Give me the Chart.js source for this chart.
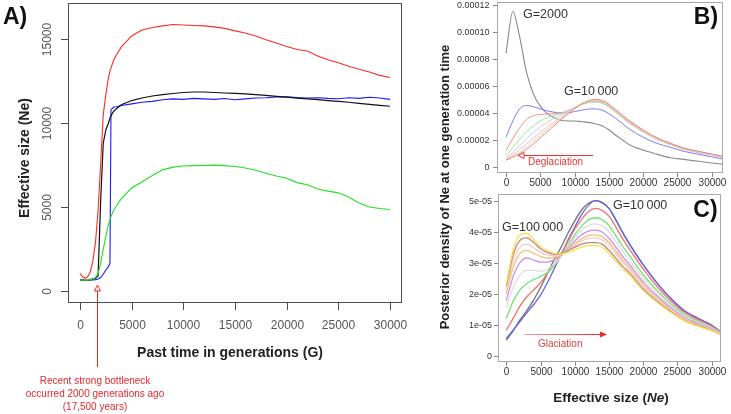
<!DOCTYPE html>
<html><head><meta charset="utf-8">
<script src="https://cdn.jsdelivr.net/npm/chart.js@4.4.1/dist/chart.umd.min.js"></script>
<style>
html,body{margin:0;padding:0;background:#fff;}
#wrap{position:relative;width:731px;height:414px;overflow:hidden;background:#fff;}
canvas{position:absolute;left:0;top:0;width:731px;height:414px;}
</style></head><body>
<div id="wrap">
<canvas id="cA" width="731" height="414"></canvas>
<canvas id="cB" width="731" height="414"></canvas>
<canvas id="cC" width="731" height="414"></canvas>
</div>
<script>
// ---------- Panel A data: past time in generations vs effective size ----------
const aX = [0,250,500,750,1000,1250,1500,1750,2000,2250,2500,2750,2900,3000,3250,3500,4000,
  5000,6000,7000,8000,9000,10000,11000,12000,13000,14000,15000,16000,17000,18000,19000,20000,
  21000,22000,23000,24000,25000,26000,27000,28000,29000,30000];
const aRed = [1050,850,760,850,1150,1800,2900,4800,7600,10500,11700,12700,13100,13300,13750,14050,14550,
  15200,15550,15700,15800,15880,15850,15820,15800,15740,15650,15500,15380,15200,14970,14780,14570,
  14390,14300,14000,13780,13600,13390,13220,13050,12850,12720];
const aBlack = [650,650,640,650,680,720,760,900,5400,8800,9600,10000,10300,10450,10700,10850,11100,
  11350,11500,11620,11700,11770,11830,11860,11860,11830,11800,11780,11750,11700,11660,11600,11550,
  11500,11450,11400,11350,11300,11250,11180,11120,11060,11010];
const aBlue = [650,650,640,640,650,660,680,720,800,1000,1250,1450,1650,10800,10950,10980,11050,
  11150,11250,11300,11400,11450,11420,11480,11450,11420,11470,11400,11450,11500,11520,11560,11580,
  11530,11500,11520,11480,11460,11520,11480,11550,11500,11420];
const aGreen = [650,640,640,650,680,720,800,1050,1650,2500,3250,3950,4250,4450,4800,5050,5500,
  6150,6500,6880,7220,7380,7450,7470,7480,7500,7470,7420,7330,7200,7020,6850,6720,
  6460,6330,6080,5950,5850,5600,5250,5010,4920,4860];
const aXTicks = [0,5000,10000,15000,20000,25000,30000];
const aYTicks = [0,5000,10000,15000];

// ---------- Panels B and C: posterior density of Ne (values in units of 1e-5) ----------
const neX = [0,1000,2000,3000,4000,5000,6000,7000,8000,9000,10000,11000,12000,13000,14000,15000,
  16000,17000,18000,20000,22000,24000,26000,28000,30000,31500];
// B) deglaciation
const bGray   = [8.4,11.5,9.6,7.0,5.4,4.5,3.95,3.65,3.45,3.4,3.4,3.35,3.3,3.2,3.05,2.75,2.35,2.0,1.65,1.25,0.95,0.68,0.56,0.42,0.3,0.2];
const bBlue   = [2.2,3.4,4.3,4.55,4.45,4.3,4.15,4.05,4.0,4.0,4.1,4.2,4.28,4.3,4.2,3.95,3.6,3.2,2.8,2.2,1.75,1.45,1.15,0.95,0.75,0.6];
const bRed    = [1.2,2.1,2.9,3.5,3.8,3.88,3.92,3.95,4.0,4.15,4.4,4.65,4.8,4.85,4.75,4.45,4.05,3.65,3.25,2.6,2.05,1.65,1.3,1.08,0.88,0.72];
const bGreen  = [0.8,1.45,2.05,2.6,3.05,3.4,3.65,3.82,3.95,4.1,4.35,4.6,4.75,4.8,4.72,4.45,4.05,3.65,3.3,2.62,2.08,1.68,1.32,1.1,0.9,0.75];
const bLav    = [0.62,1.1,1.6,2.1,2.55,2.95,3.3,3.6,3.85,4.1,4.4,4.65,4.82,4.88,4.8,4.52,4.12,3.7,3.32,2.65,2.1,1.7,1.34,1.12,0.92,0.77];
const bPink   = [0.55,0.92,1.3,1.72,2.15,2.6,3.0,3.35,3.7,4.0,4.35,4.65,4.85,4.93,4.85,4.57,4.17,3.75,3.36,2.68,2.12,1.72,1.36,1.14,0.93,0.78];
const bOrange = [0.5,0.8,1.1,1.48,1.9,2.35,2.78,3.2,3.6,3.95,4.32,4.65,4.88,4.96,4.88,4.6,4.2,3.78,3.38,2.7,2.14,1.73,1.37,1.15,0.94,0.79];
const bBrown  = [0.5,0.72,0.98,1.3,1.7,2.15,2.6,3.05,3.5,3.9,4.3,4.65,4.9,5.0,4.92,4.65,4.25,3.82,3.42,2.74,2.17,1.75,1.39,1.17,0.96,0.8];
// C) glaciation
const cGray   = [0.5,0.8,1.15,1.45,1.8,2.2,2.65,3.1,3.5,3.95,4.35,4.7,4.92,5.0,4.93,4.75,4.38,3.97,3.6,2.93,2.35,1.85,1.45,1.2,0.98,0.73];
const cBlue   = [0.55,0.82,1.1,1.38,1.65,1.95,2.35,2.8,3.25,3.72,4.15,4.55,4.85,5.0,4.95,4.75,4.38,3.97,3.6,2.93,2.35,1.85,1.45,1.2,0.98,0.73];
const cRed    = [0.82,1.2,1.6,1.9,2.12,2.35,2.65,2.95,3.28,3.68,4.08,4.4,4.65,4.75,4.69,4.5,4.15,3.77,3.43,2.79,2.24,1.77,1.39,1.16,0.95,0.72];
const cGreen  = [1.2,1.75,2.12,2.33,2.45,2.55,2.68,2.9,3.2,3.55,3.9,4.18,4.38,4.45,4.39,4.2,3.87,3.53,3.22,2.61,2.11,1.68,1.32,1.11,0.91,0.71];
const cLgray  = [1.55,2.2,2.6,2.75,2.75,2.72,2.78,2.95,3.2,3.5,3.8,4.05,4.2,4.25,4.19,4.0,3.69,3.36,3.08,2.5,2.02,1.62,1.28,1.07,0.89,0.7];
const cPurple = [1.77,2.55,3.0,3.15,3.08,3.02,3.02,3.1,3.25,3.45,3.7,3.9,4.02,4.05,3.99,3.79,3.5,3.2,2.94,2.38,1.93,1.55,1.23,1.04,0.86,0.69];
const cOrange = [2.0,2.85,3.3,3.4,3.3,3.2,3.15,3.17,3.25,3.42,3.6,3.77,3.88,3.9,3.84,3.65,3.37,3.08,2.84,2.3,1.87,1.51,1.2,1.01,0.84,0.68];
const cPink   = [2.15,3.05,3.5,3.6,3.48,3.33,3.25,3.22,3.27,3.4,3.55,3.7,3.78,3.8,3.74,3.55,3.28,3.0,2.77,2.24,1.83,1.48,1.18,0.99,0.83,0.68];
const cBrown  = [2.25,3.25,3.72,3.8,3.65,3.45,3.33,3.27,3.28,3.38,3.5,3.6,3.65,3.65,3.6,3.4,3.14,2.88,2.67,2.16,1.76,1.43,1.14,0.97,0.81,0.67];
const cYellow = [2.3,3.4,3.9,3.95,3.75,3.52,3.38,3.3,3.28,3.33,3.42,3.5,3.55,3.55,3.5,3.3,3.05,2.8,2.6,2.1,1.72,1.4,1.12,0.95,0.8,0.67];

const neXTicks = [0,5000,10000,15000,20000,25000,30000];
const bYTicks = [0,2,4,6,8,10,12];
const bYLabels = ['0','0.00002','0.00004','0.00006','0.00008','0.00010','0.00012'];
const cYTicks = [0,1,2,3,4,5];
const cYLabels = ['0','1e-05','2e-05','3e-05','4e-05','5e-05'];

// ---------- helpers ----------
const FF = '"Liberation Sans", Arial, Helvetica, sans-serif';
function ds(xs, ys, color, w, smooth) {
  return {data: xs.map((x,i)=>({x:x, y:ys[i]})), borderColor: color, borderWidth: w,
    pointRadius: 0, fill: false, tension: 0, cubicInterpolationMode: smooth ? 'monotone' : 'default'};
}
function text(ctx, s, x, y, font, color, align, rot) {
  ctx.save();
  ctx.font = font; ctx.fillStyle = color; ctx.textAlign = align || 'center'; ctx.textBaseline = 'middle';
  ctx.translate(x, y); if (rot) ctx.rotate(rot);
  ctx.fillText(s, 0, 0); ctx.restore();
}
function line(ctx, x1, y1, x2, y2, color, w) {
  ctx.save(); ctx.strokeStyle = color; ctx.lineWidth = w || 1;
  ctx.beginPath(); ctx.moveTo(x1, y1); ctx.lineTo(x2, y2); ctx.stroke(); ctx.restore();
}
function baseOpts(pad, xr, yr) {
  return {
    responsive: false, animation: false, devicePixelRatio: 1, events: [],
    layout: {padding: pad},
    plugins: {legend: {display: false}, tooltip: {enabled: false}},
    scales: {
      x: {type: 'linear', display: false, min: xr[0], max: xr[1]},
      y: {type: 'linear', display: false, min: yr[0], max: yr[1]}
    }
  };
}

// ---------- Panel A ----------
const plugA = {id: 'axA', afterDraw(chart) {
  const ctx = chart.ctx, xs = chart.scales.x, ys = chart.scales.y, ca = chart.chartArea;
  ctx.save();
  ctx.strokeStyle = '#4d4d4d'; ctx.lineWidth = 1;
  ctx.strokeRect(Math.round(ca.left)+0.5, Math.round(ca.top)+0.5, Math.round(ca.width)-1, Math.round(ca.height)-1);
  const bot = Math.round(ca.bottom);
  aXTicks.forEach(v => {
    const p = Math.round(xs.getPixelForValue(v)) + 0.5;
    line(ctx, p, bot, p, bot + 7, '#4d4d4d', 1);
    text(ctx, String(v), p, 326, '12px ' + FF, '#555', 'center');
  });
  const lft = Math.round(ca.left);
  aYTicks.forEach(v => {
    const p = Math.round(ys.getPixelForValue(v)) + 0.5;
    line(ctx, lft, p, lft - 7, p, '#4d4d4d', 1);
    text(ctx, String(v), 48, p, '12px ' + FF, '#555', 'center', -Math.PI/2);
  });
  text(ctx, 'Effective size (Ne)', 25, 158, 'bold 14px ' + FF, '#222', 'center', -Math.PI/2);
  text(ctx, 'Past time in generations (G)', 230, 353, 'bold 14px ' + FF, '#222', 'center');
  text(ctx, 'A)', 3, 18, 'bold 23px ' + FF, '#111', 'left');
  // bottleneck annotation
  const red = '#e8262b';
  line(ctx, 97.5, 291, 97.5, 367, red, 1);
  ctx.strokeStyle = red; ctx.lineWidth = 1;
  ctx.beginPath(); ctx.moveTo(97.5, 285); ctx.lineTo(94.5, 291); ctx.lineTo(100.5, 291); ctx.closePath();
  ctx.fillStyle = '#fff'; ctx.fill(); ctx.stroke();
  text(ctx, 'Recent strong bottleneck', 95, 381, '10px ' + FF, red, 'center');
  text(ctx, 'occurred 2000 generations ago', 95, 394, '10px ' + FF, red, 'center');
  text(ctx, '(17,500 years)', 95, 407, '10px ' + FF, red, 'center');
  ctx.restore();
}};
new Chart(document.getElementById('cA'), {
  type: 'line',
  data: {datasets: [
    ds(aX, aRed, '#ff2a2a', 1.1),
    ds(aX, aGreen, '#22e022', 1.1),
    ds(aX, aBlack, '#111111', 1.2),
    ds(aX, aBlue, '#1a1aff', 1.1)
  ]},
  options: baseOpts({left: 68, top: 3, right: 329, bottom: 111}, [-1161, 31161], [-715, 17163]),
  plugins: [plugA]
});

// ---------- Panels B / C shared axis drawing ----------
function densAxes(chart, yTicks, yLabels, yLabRight, xLabY) {
  const ctx = chart.ctx, xs = chart.scales.x, ys = chart.scales.y, ca = chart.chartArea;
  ctx.save();
  ctx.strokeStyle = '#a8a8a8'; ctx.lineWidth = 1;
  ctx.strokeRect(Math.round(ca.left)+0.5, Math.round(ca.top)+0.5, Math.round(ca.width)-1, Math.round(ca.height)-1);
  const lft = Math.round(ca.left), bot = Math.round(ca.bottom);
  yTicks.forEach((v, i) => {
    const p = Math.round(ys.getPixelForValue(v)) + 0.5;
    line(ctx, lft - 4, p, lft, p, '#888', 1);
    text(ctx, yLabels[i], yLabRight, p, '9px ' + FF, '#333', 'right');
  });
  neXTicks.forEach(v => {
    const p = Math.round(xs.getPixelForValue(v)) + 0.5;
    line(ctx, p, bot, p, bot + 4, '#888', 1);
    text(ctx, String(v), p, xLabY, '10px ' + FF, '#333', 'center');
  });
  ctx.restore();
}

// ---------- Panel B ----------
const plugB = {id: 'axB', afterDraw(chart) {
  const ctx = chart.ctx;
  densAxes(chart, bYTicks, bYLabels, 489.5, 183);
  text(ctx, 'G=2000', 523, 15, '12.5px ' + FF, '#333', 'left');
  text(ctx, 'G=10\u2009000', 564, 92, '12.5px ' + FF, '#333', 'left');
  text(ctx, 'B)', 706, 18, 'bold 23px ' + FF, '#111', 'center');
  const red = '#e83434';
  line(ctx, 593, 155.5, 524, 155.5, red, 1);
  ctx.save(); ctx.strokeStyle = red; ctx.lineWidth = 1; ctx.fillStyle = '#fff';
  ctx.beginPath(); ctx.moveTo(518, 155.5); ctx.lineTo(524, 152.5); ctx.lineTo(524, 158.5); ctx.closePath(); ctx.fill(); ctx.stroke();
  ctx.restore();
  text(ctx, 'Deglaciation', 528, 162, '10px ' + FF, red, 'left');
  text(ctx, 'Posterior density of Ne at one generation time', 445, 187, 'bold 13px ' + FF, '#222', 'center', -Math.PI/2);
}};
new Chart(document.getElementById('cB'), {
  type: 'line',
  data: {datasets: [
    ds(neX, bBrown, '#e08888', 1, true),
    ds(neX, bOrange, '#f6cf98', 1, true),
    ds(neX, bPink, '#f2c2c2', 1, true),
    ds(neX, bLav, '#d8bff0', 1, true),
    ds(neX, bGreen, '#90ee90', 1, true),
    ds(neX, bRed, '#ff8c8c', 1, true),
    ds(neX, bBlue, '#7a7aff', 1, true),
    ds(neX, bGray, '#8a8a8a', 1.1, true)
  ]},
  options: baseOpts({left: 497, top: 2, right: 8, bottom: 241}, [-1311, 31645], [-0.445, 12.2]),
  plugins: [plugB]
});

// ---------- Panel C ----------
const plugC = {id: 'axC', afterDraw(chart) {
  const ctx = chart.ctx;
  densAxes(chart, cYTicks, cYLabels, 492, 372.5);
  text(ctx, 'G=10\u2009000', 613, 206, '12.5px ' + FF, '#333', 'left');
  text(ctx, 'G=100\u2009000', 502, 228, '12.5px ' + FF, '#333', 'left');
  text(ctx, 'C)', 705.5, 211, 'bold 23px ' + FF, '#111', 'center');
  ctx.save();
  const g = ctx.createLinearGradient(524, 0, 602, 0);
  g.addColorStop(0, '#f4a0a0'); g.addColorStop(1, '#e82a2a');
  ctx.strokeStyle = g; ctx.lineWidth = 1;
  ctx.beginPath(); ctx.moveTo(524, 334.5); ctx.lineTo(601, 334.5); ctx.stroke();
  ctx.fillStyle = '#e82a2a';
  ctx.beginPath(); ctx.moveTo(607, 334.5); ctx.lineTo(600, 331.5); ctx.lineTo(600, 337.5); ctx.closePath(); ctx.fill();
  ctx.restore();
  text(ctx, 'Glaciation', 538, 344, '10px ' + FF, '#e04040', 'left');
  // x title with italic Ne
  ctx.save();
  ctx.fillStyle = '#222'; ctx.textBaseline = 'middle'; ctx.textAlign = 'left';
  const f1 = 'bold 13.5px ' + FF, f2 = 'italic bold 13.5px ' + FF;
  const p1 = 'Effective size (', p2 = 'Ne', p3 = ')';
  ctx.font = f1; const w1 = ctx.measureText(p1).width, w3 = ctx.measureText(p3).width;
  ctx.font = f2; const w2 = ctx.measureText(p2).width;
  const x0 = 611 - (w1 + w2 + w3) / 2;
  ctx.font = f1; ctx.fillText(p1, x0, 398);
  ctx.font = f2; ctx.fillText(p2, x0 + w1, 398);
  ctx.font = f1; ctx.fillText(p3, x0 + w1 + w2, 398);
  ctx.restore();
}};
new Chart(document.getElementById('cC'), {
  type: 'line',
  data: {datasets: [
    ds(neX, cYellow, '#f6e04a', 1.3, true),
    ds(neX, cBrown, '#c08484', 1.3, true),
    ds(neX, cPink, '#f2cccc', 1.3, true),
    ds(neX, cOrange, '#f6c070', 1.3, true),
    ds(neX, cPurple, '#c890f0', 1.3, true),
    ds(neX, cLgray, '#dcdcdc', 1.3, true),
    ds(neX, cGreen, '#74e274', 1.3, true),
    ds(neX, cRed, '#f27070', 1.3, true),
    ds(neX, cBlue, '#6464ec', 1.3, true),
    ds(neX, cGray, '#707070', 1.3, true)
  ]},
  options: baseOpts({left: 498, top: 194, right: 10, bottom: 52}, [-1210, 31355], [-0.207, 5.217]),
  plugins: [plugC]
});
</script>
</body></html>
